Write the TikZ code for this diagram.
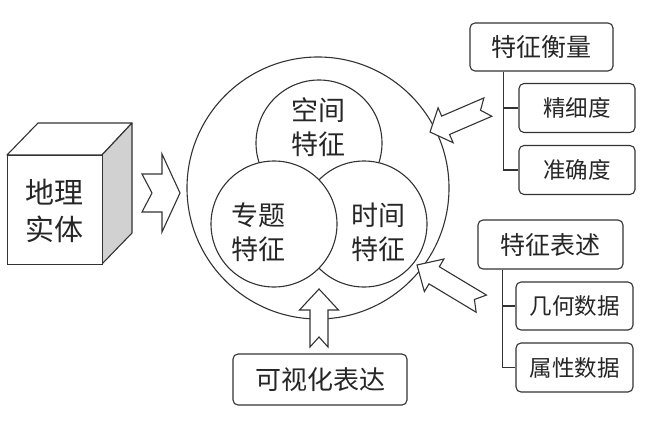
\documentclass[tikz,border=0pt]{standalone}
\usepackage{fontspec}
\setmainfont{Noto Sans CJK SC}
\begin{document}
\begin{tikzpicture}[x=1pt,y=-1pt,
  line/.style={draw=black!80,line width=1.1pt},
  box/.style={line,rounded corners=5pt,fill=white,inner sep=0pt,text=black!85},
  bigbox/.style={box,minimum width=143pt,minimum height=48pt,font=\fontsize{25}{28}\selectfont},
  subbox/.style={box,minimum width=116pt,minimum height=49pt,font=\fontsize{22.5}{26}\selectfont},
  ring/.style={line,circle,fill=white,inner sep=0pt},
  ctext/.style={align=center,text=black!85,font=\fontsize{27}{34}\selectfont,inner sep=0pt},
  fat/.style={line,fill=white,line join=miter}]
\useasboundingbox (0,0) rectangle (658,431);
\newcommand{\blockarrow}[7]{% tip, angle, L, hl, hw, sw, nd
  \draw[fat,shift={(#1)},rotate=#2] (0,0) -- (#4,#5) -- (#4,#6) -- (#3,#6) -- ({#3-#7},0) -- (#3,-#6) -- (#4,-#6) -- (#4,-#5) -- cycle;}
% cube
\filldraw[line,fill=white,line join=round] (7,155) -- (38,123) -- (132,123) -- (102,155) -- cycle;
\filldraw[line,fill=black!18,line join=round] (102,155) -- (132,123) -- (132,233) -- (102,264) -- cycle;
\node[line,fill=white,minimum width=95pt,minimum height=109pt,inner sep=0pt,anchor=north west] (front) at (7,155) {};
\node[ctext,font=\fontsize{29}{37}\selectfont] (entity) at (54,211) {地理\\实体};
% left chevron
\blockarrow{180,193}{180}{38}{18}{39}{19}{10}
% circles
\node[ring,minimum size=262pt] (outer) at (318,188) {};
\node[ring,minimum size=126pt] (space) at (319,143) {};
\node[ring,minimum size=126pt] (time) at (364,224) {};
\node[ring,minimum size=126pt] (theme) at (274,224) {};
\node[ctext] (spacet) at (318,127) {空间\\特征};
\node[ctext] (themet) at (258,232) {专题\\特征};
\node[ctext] (timet) at (378,232) {时间\\特征};
% right boxes
\node[bigbox] (measure) at (541.5,47) {特征衡量};
\node[subbox] (fine) at (577,108) {精细度};
\node[subbox] (acc) at (577,170) {准确度};
\coordinate (m0) at ([xshift=34pt]measure.south west);
\draw[line] (m0) |- (fine.west);
\draw[line] (m0) |- (acc.west);
\node[bigbox,minimum width=145pt,minimum height=49pt] (express) at (550.5,244.5) {特征表述};
\node[subbox,minimum width=117pt,minimum height=48pt] (geom) at (574.5,306) {几何数据};
\node[subbox,minimum width=117pt,minimum height=49pt] (attr) at (574.5,367.5) {属性数据};
\coordinate (e0) at ([xshift=25pt]express.south west);
\draw[line] (e0) |- (geom.west);
\draw[line] (e0) |- (attr.west);
\node[bigbox,minimum width=174pt,minimum height=51pt,font=\fontsize{26}{28}\selectfont] (vis) at (320,379.5) {可视化表达};
% block arrows
\blockarrow{430,132}{23.3}{63}{17}{19}{10}{8}
\blockarrow{417,265}{-31}{75}{20}{19}{10}{8}
\blockarrow{319,289}{-90}{58}{21}{19.5}{9}{10}
\end{tikzpicture}
\end{document}
